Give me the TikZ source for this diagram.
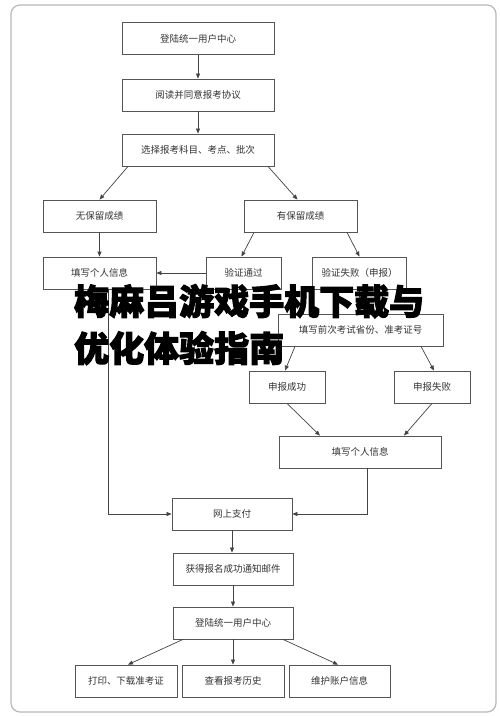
\documentclass[tikz,border=0pt]{standalone}
\usepackage{fontspec}
\newfontfamily\cjk{Noto Sans CJK SC}
\newfontfamily\wmfont{Noto Sans CJK SC}[FakeBold=5, BoldFeatures={FakeBold=3}]
\usetikzlibrary{arrows.meta,calc}
\definecolor{boxline}{HTML}{555555}
\definecolor{boxtext}{HTML}{333333}
\tikzset{
  flowbox/.style={draw=boxline, line width=0.8pt, fill=white, minimum height=32pt, inner sep=1pt,
    font=\cjk\fontsize{9.5pt}{11pt}\selectfont, text=boxtext},
  conn/.style={draw=boxline!80!black, line width=0.7pt, -{Triangle[length=5pt,width=4pt]}},
}
\begin{document}
\begin{tikzpicture}[x=1pt,y=-1pt]
\useasboundingbox (0,0) rectangle (500,716);
\fill[white] (0,0) rectangle (500,716);
\draw[gray!55, line width=1.2pt, rounded corners=9pt] (11,5) rectangle (496,712);

\node[flowbox, minimum width=152pt] (n1) at (198,38.5) {登陆统一用户中心};
\node[flowbox, minimum width=152pt] (n2) at (198,95) {阅读并同意报考协议};
\node[flowbox, minimum width=152pt] (n3) at (198,150) {选择报考科目、考点、批次};
\node[flowbox, minimum width=113pt] (n4) at (99.5,216) {无保留成绩};
\node[flowbox, minimum width=113pt] (n5) at (300.5,216) {有保留成绩};
\node[flowbox, minimum width=113pt] (n6) at (99.5,273) {填写个人信息};
\node[flowbox, minimum width=75pt] (n7) at (243.5,273) {验证通过};
\node[flowbox, minimum width=94pt] (n8) at (359.5,273) {验证失败（申报）};
\node[flowbox, minimum width=165pt] (n9) at (360.5,330) {填写前次考试省份、准考证号};
\node[flowbox, minimum width=76pt] (n10) at (287,387) {申报成功};
\node[flowbox, minimum width=76pt] (n11) at (432,387) {申报失败};
\node[flowbox, minimum width=162pt] (n12) at (360,452) {填写个人信息};
\node[flowbox, minimum width=120pt] (n13) at (232,514) {网上支付};
\node[flowbox, minimum width=120pt] (n14) at (233,569) {获得报名成功通知邮件};
\node[flowbox, minimum width=120pt] (n15) at (233,623) {登陆统一用户中心};
\node[flowbox, minimum width=102pt] (n16) at (126,681) {打印、下载准考证};
\node[flowbox, minimum width=102pt] (n17) at (233,681) {查看报考历史};
\node[flowbox, minimum width=101pt] (n18) at (339.5,681) {维护账户信息};

\draw[conn] (n1.south) -- (n2.north);
\draw[conn] (n2.south) -- (n3.north);
\draw[conn] ($(n3.south)+(-70,0)$) -- (n4.north);
\draw[conn] ($(n3.south)+(70,0)$) -- ($(n5.north)+(-3,0)$);
\draw[conn] (n4.south) -- (n6.north);
\draw[conn] ($(n5.south)+(-46.5,0)$) -- ($(n7.north)+(-2,0)$);
\draw[conn] ($(n5.south)+(46.5,0)$) -- (n8.north);
\draw[conn] (n7.west) -- (n6.east);
\draw[conn] (n8.south) -- (n8.south |- n9.north);
\draw[conn] ($(n9.south)+(-65.5,0)$) -- ($(n10.north)+(-2,0)$);
\draw[conn] ($(n9.south)+(60.5,0)$) -- ($(n11.north)+(2,0)$);
\draw[conn] (n10.south) -- ($(n12.north)+(-40,0)$);
\draw[conn] (n11.south) -- ($(n12.north)+(44,0)$);
\draw[conn] ($(n12.south)+(7,0)$) |- (n13.east);
\draw[conn] ($(n6.south)+(8.5,0)$) |- (n13.west);
\draw[conn] (n13.south) -- (n13.south |- n14.north);
\draw[conn] (n14.south) -- (n14.south |- n15.north);
\draw[conn] ($(n15.south)+(-50,0)$) -- ($(n16.north)+(2,0)$);
\draw[conn] (n15.south) -- (n17.north);
\draw[conn] ($(n15.south)+(50,0)$) -- ($(n18.north)+(-1.5,0)$);

\node[anchor=north west, align=left, inner sep=0pt, text=black,
  font=\wmfont\bfseries\fontsize{35pt}{47pt}\selectfont] (wm) at (74,284) {梅麻吕游戏手机下载与\\优化体验指南};
\end{tikzpicture}
\end{document}
